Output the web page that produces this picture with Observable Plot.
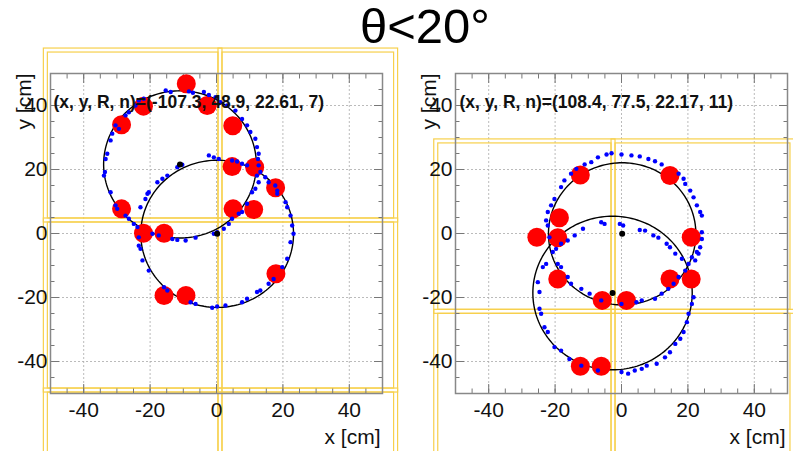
<!DOCTYPE html>
<html><head><meta charset="utf-8">
<script src="https://cdn.jsdelivr.net/npm/d3@7"></script>
<script src="https://cdn.jsdelivr.net/npm/@observablehq/plot@0.6"></script>
<style>
body{margin:0;background:#fff;font-family:"Liberation Sans",Arial,sans-serif;}
#title{height:46px;position:relative;}
#title span{position:absolute;left:360px;top:4px;font-size:49px;line-height:44px;color:#000;white-space:nowrap;}
#row{display:flex;align-items:flex-start;}
svg{display:block;}
</style></head><body>
<div id="title"><span>θ&lt;20°</span></div>
<div id="row"><div id="left"></div><div id="right"></div></div>
<script>
// ---------- data ----------
const titleText = "θ<20°";
const xTicks = [-40, -20, 0, 20, 40];
const yTicks = [-40, -20, 0, 20, 40];
const minorTicks = [-50,-45,-40,-35,-30,-25,-20,-15,-10,-5,0,5,10,15,20,25,30,35,40,45,50];

const leftLabel = "(x, y, R, n)=(-107.3, 48.9, 22.61, 7)";
const rightLabel = "(x, y, R, n)=(108.4, 77.5, 22.17, 11)";

// hit pads (red)
const leftHits = [[-9.1,46.8],[-22.0,39.8],[-28.6,34.0],[-2.8,40.0],[4.9,33.7],[4.7,20.9],[11.5,20.7],[17.8,14.3],
  [5.0,7.7],[11.2,7.5],[-28.6,7.7],[-22.0,0.1],[-15.8,0.1],[17.9,-12.6],[-15.8,-19.4],[-9.2,-19.4]];
const rightHits = [[-12.4,18.3],[14.6,18.1],[-18.7,4.9],[-25.5,-1.2],[-19.2,-1.3],[21.0,-1.2],[-19.2,-14.2],
  [14.6,-14.2],[21.0,-14.2],[-5.8,-20.9],[1.5,-20.9],[-12.4,-41.5],[-6.1,-41.5]];

// photon positions (blue)
const leftPhotons = [[-15.3,44.7],[-13.8,44.2],[-8.3,44.4],[-7.1,44.0],[-3.8,44.2],[-2.3,43.3],[-0.3,42.6],[1.2,41.0],
  [3.2,40.0],[5.7,38.4],[7.7,35.8],[9.2,33.8],[10.2,31.7],[11.7,29.6],[12.2,27.0],[12.7,24.9],[12.5,23.3],[12.7,21.3],
  [13.2,19.2],[12.2,18.1],[14.7,17.6],[15.7,16.0],[17.7,15.0],[18.3,13.4],[-24.4,40.0],[-26.4,37.9],[-27.4,36.9],
  [-30.4,33.8],[-29.4,32.7],[-31.4,31.2],[-31.9,29.1],[-32.9,24.9],[-33.4,23.3],[-33.6,19.2],[-33.9,18.1],[-23.4,41.6],
  [-21.9,42.1],[-2.3,24.4],[-0.8,23.8],[0.7,23.3],[4.7,22.8],[6.2,22.5],[7.7,21.8],[9.2,21.3],[-10.3,21.5],[-11.8,20.7],
  [-14.8,18.1],[-16.3,17.1],[-17.8,16.0],[-20.4,12.9],[12.7,16.0],[11.7,14.0],[-31.9,12.9],[-20.8,12.4],[-21.4,10.8],
  [-22.9,8.2],[-30.4,8.8],[-29.9,7.7],[-27.4,5.6],[-26.4,4.6],[-24.9,3.0],[-23.8,2.0],[-23.4,-1.2],[-23.4,-3.8],
  [-22.9,-4.8],[-22.3,-8.4],[-20.4,-11.6],[-19.3,-0.1],[-17.4,-0.6],[-13.3,-1.7],[-11.8,-2.0],[-9.3,-2.2],[-6.3,-1.3],
  [-0.8,-0.1],[0.2,0.4],[2.2,1.5],[3.7,3.0],[4.7,4.6],[6.7,6.2],[7.7,6.7],[9.2,9.3],[10.7,12.9],[18.3,12.4],[20.8,9.8],
  [21.3,8.2],[22.3,5.6],[22.8,2.5],[23.2,-0.1],[22.3,-2.7],[21.3,-7.9],[19.8,-10.5],[17.2,-14.2],[15.7,-15.7],
  [13.2,-17.8],[12.2,-18.3],[9.2,-20.4],[7.7,-21.5],[2.7,-22.5],[0.2,-22.8],[-1.3,-23.2],[-6.3,-22.0],[-7.8,-21.5],
  [-14.8,-17.8],[-15.8,-16.8]];
const rightPhotons = [[-4.5,24.7],[-3.0,25.1],[0,24.7],[3.0,24.4],[5.5,24.1],[8.1,23.3],[10.1,22.6],[12.1,21.6],
  [17.2,18.7],[18.7,17.1],[19.2,15.5],[20.7,13.4],[21.7,11.3],[22.7,8.8],[23.7,6.7],[24.2,5.6],[24.2,0.4],[24.2,-1.7],
  [23.7,-4.3],[-7.1,23.8],[-9.1,22.3],[-11.1,21.6],[-13.6,20.2],[-15.2,18.7],[-17.2,16.6],[-18.2,14.5],[-20.2,10.8],
  [-21.2,8.8],[-22.2,6.7],[-22.7,4.1],[-22.2,2.5],[-21.7,-1.2],[-6.1,3.5],[-5.1,3.0],[-0.5,3.0],[0.5,2.5],[5.5,1.1],
  [7.1,0.9],[9.6,-0.6],[11.1,-1.3],[13.6,-3.2],[14.6,-4.3],[-11.6,1.5],[-14.1,-0.6],[-16.2,-2.2],[-18.2,-3.2],
  [-19.7,-4.8],[-20.7,-5.8],[-22.7,-9.5],[-23.7,-10.5],[-19.2,-9.5],[-18.2,-10.5],[-16.2,-13.6],[-15.2,-15.7],
  [-12.1,-17.3],[-9.6,-18.8],[-6.1,-20.9],[0,-22.0],[4.5,-21.5],[6.1,-20.9],[10.1,-20.4],[12.1,-18.8],[14.1,-17.3],
  [15.7,-15.7],[17.2,-13.6],[19.2,-11.6],[20.2,-9.5],[21.2,-7.4],[22.7,-5.8],[16.2,-6.3],[18.2,-7.9],[-25.2,-15.2],
  [-24.7,-18.3],[-24.7,-23.5],[-24.2,-25.1],[-23.2,-29.3],[-22.2,-30.8],[-20.2,-35.5],[-18.2,-36.6],[-15.7,-39.2],
  [-12.1,-41.3],[-7.1,-42.8],[0,-43.3],[2.0,-43.8],[4.0,-42.8],[6.1,-42.3],[7.6,-41.3],[10.6,-40.7],[13.1,-38.7],
  [14.6,-37.1],[16.2,-34.5],[17.7,-32.9],[18.7,-30.8],[19.7,-27.7],[20.2,-25.1],[21.2,-22.0],[21.7,-19.9],
  [23.2,-6.3],[22.2,-8.4]];

// fitted rings: centres and radii
const leftRingCenters = [[-11.0,21.6],[0.2,-0.1]];
const leftRingRadii = [23.0, 23.0];
const rightRingCenters = [[0.2,-0.1],[-2.7,-18.6]];
const rightRingRadii = [22.2, 24.0];

// overlay boxes (yellow outlines) in cm
const leftBoxesX1 = [-52.0, 0.6, -52.0, 0.6, -52.0, 0.6];
const leftBoxesX2 = [1.8, 54.7, 1.8, 54.7, 1.8, 54.7];
const leftBoxesY1 = [3.44, 3.44, -49.7, -49.7, -102, -102];
const leftBoxesY2 = [57.8, 57.8, 4.69, 4.69, -48.45, -48.45];
const rightBoxesX1 = [-56.4, -3.0, -56.4, -3.0];
const rightBoxesX2 = [-1.8, 52.1, -1.8, 52.1];
const rightBoxesY1 = [-25.1, -25.1, -80, -80];
const rightBoxesY2 = [29.4, 29.4, -23.85, -23.85];

// ---------- drawing ----------
function ringOutline(center, r, ring) {
  return d3.range(0, 361, 2).map(a => ({
    ring,
    x: center[0] + r * Math.cos(a * Math.PI / 180),
    y: center[1] + r * Math.sin(a * Math.PI / 180)
  }));
}

function panel({width, marginLeft, marginRight, hits, photons, centers, radii, label, bx1, bx2, by1, by2, labelDx}) {
  const rings = centers.flatMap((c, i) => ringOutline(c, radii[i], i));
  const boxes = bx1.map((_, i) => ({x1: bx1[i], x2: bx2[i], y1: by1[i], y2: by2[i]}));
  const yel = "#f7d04c";
  return Plot.plot({
    width, height: 405,
    marginLeft, marginRight, marginTop: 27, marginBottom: 58,
    style: {fontFamily: "'Liberation Sans', Arial, sans-serif", fontSize: "21px", color: "#111", background: "transparent"},
    x: {domain: [-50, 50], label: null},
    y: {domain: [-50, 50], label: null},
    marks: [
      Plot.gridX(xTicks, {stroke: "#aaa", strokeOpacity: 1, strokeDasharray: "2,2", strokeWidth: 0.8}),
      Plot.gridY(yTicks, {stroke: "#aaa", strokeOpacity: 1, strokeDasharray: "2,2", strokeWidth: 0.8}),
      Plot.rect(boxes, {x1: "x1", x2: "x2", y1: "y1", y2: "y2", fill: "none", stroke: yel, strokeWidth: 1.2}),
      Plot.rect(boxes, {x1: "x1", x2: "x2", y1: "y1", y2: "y2", fill: "none", stroke: yel, strokeWidth: 1.2, inset: 4}),
      Plot.axisX({anchor: "bottom", ticks: minorTicks, tickSize: -4.5, tickFormat: () => "", stroke: "#777"}),
      Plot.axisX({anchor: "top", ticks: minorTicks, tickSize: -4.5, tickFormat: () => "", stroke: "#777"}),
      Plot.axisY({anchor: "left", ticks: minorTicks, tickSize: -4.5, tickFormat: () => "", stroke: "#777"}),
      Plot.axisY({anchor: "right", ticks: minorTicks, tickSize: -4.5, tickFormat: () => "", stroke: "#777"}),
      Plot.axisX({anchor: "bottom", ticks: xTicks, tickSize: -9, tickPadding: 18, tickFormat: d => String(d), stroke: "#777"}),
      Plot.axisX({anchor: "top", ticks: xTicks, tickSize: -9, tickFormat: () => "", stroke: "#777"}),
      Plot.axisY({anchor: "left", ticks: yTicks, tickSize: -9, tickPadding: 12, tickFormat: d => String(d), stroke: "#777"}),
      Plot.axisY({anchor: "right", ticks: yTicks, tickSize: -9, tickFormat: () => "", stroke: "#777"}),
      Plot.frame({stroke: "#888", strokeWidth: 1.5}),
      Plot.line(rings, {x: "x", y: "y", z: "ring", stroke: "#000", strokeWidth: 1.4}),
      Plot.dot(hits, {x: d => d[0], y: d => d[1], r: 9.5, fill: "#ff0000", stroke: "none"}),
      Plot.dot(photons, {x: d => d[0], y: d => d[1], r: 2.2, fill: "#0000ff", stroke: "none"}),
      Plot.dot(centers, {x: d => d[0], y: d => d[1], r: 3, fill: "#000", stroke: "none"}),
      Plot.text([label], {frameAnchor: "top-left", textAnchor: "start", lineAnchor: "middle", dx: labelDx, dy: 29, fontSize: 17.5, fontWeight: "bold", fill: "#111"}),
      Plot.text(["x [cm]"], {frameAnchor: "bottom-right", textAnchor: "end", lineAnchor: "middle", dx: -2, dy: 44, fill: "#111"}),
      Plot.text(["y [cm]"], {frameAnchor: "top-left", textAnchor: "end", lineAnchor: "middle", rotate: -90, dx: -26, dy: 0, fill: "#111"})
    ]
  });
}

document.getElementById("left").append(panel({
  width: 400, marginLeft: 50, marginRight: 18,
  hits: leftHits, photons: leftPhotons, centers: leftRingCenters, radii: leftRingRadii,
  label: leftLabel, bx1: leftBoxesX1, bx2: leftBoxesX2, by1: leftBoxesY1, by2: leftBoxesY2, labelDx: 3
}));
document.getElementById("right").append(panel({
  width: 393, marginLeft: 55, marginRight: 6,
  hits: rightHits, photons: rightPhotons, centers: rightRingCenters, radii: rightRingRadii,
  label: rightLabel, bx1: rightBoxesX1, bx2: rightBoxesX2, by1: rightBoxesY1, by2: rightBoxesY2, labelDx: 4
}));
</script>
</body></html>
